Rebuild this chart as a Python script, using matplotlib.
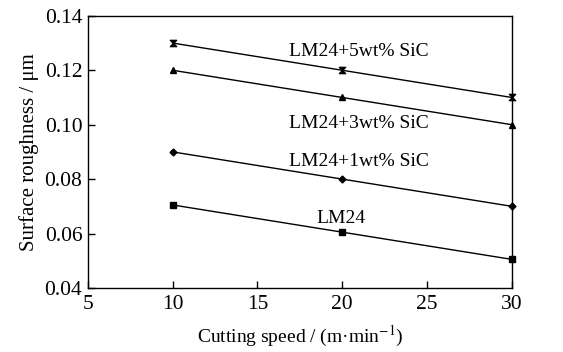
import matplotlib
matplotlib.use("Agg")
import matplotlib.pyplot as plt
from matplotlib.path import Path

plt.rcParams['font.family'] = ['Liberation Serif', 'DejaVu Serif']
plt.rcParams['mathtext.fontset'] = 'stix'

speed = [10, 20, 30]
lm24 = [0.0705, 0.0605, 0.0505]
sic1 = [0.090, 0.080, 0.070]
sic3 = [0.120, 0.110, 0.100]
sic5 = [0.130, 0.120, 0.110]

# hourglass marker for the 5wt% series
hourglass = Path([(-1, 1), (1, 1), (-1, -1), (1, -1), (-1, 1)],
                 [Path.MOVETO, Path.LINETO, Path.LINETO, Path.LINETO, Path.CLOSEPOLY])

series = [
    (lm24, 's', 4, "LM24", 19.9, 0.0657),
    (sic1, 'D', 3.5, "LM24+1wt% SiC", 21.0, 0.0863),
    (sic3, '^', 4.5, "LM24+3wt% SiC", 21.0, 0.1003),
    (sic5, hourglass, 4.5, "LM24+5wt% SiC", 21.0, 0.1268),
]

fig = plt.figure(figsize=(5.63, 3.52), dpi=100)
ax = fig.add_axes([0.156, 0.182, 0.753, 0.773])

for vals, mk, ms, name, tx, ty in series:
    ax.plot(speed, vals, color='black', lw=1.0, marker=mk, ms=ms,
            mec='black', mfc='black', mew=1.0, clip_on=False)
    ax.text(tx, ty, name, fontsize=14, ha='center', va='center')

ax.set_xlim(5, 30)
ax.set_ylim(0.04, 0.14)
ax.set_xticks([5, 10, 15, 20, 25, 30])
ax.set_yticks([0.04, 0.06, 0.08, 0.10, 0.12, 0.14])
ax.set_yticklabels(["0.04", "0.06", "0.08", "0.10", "0.12", "0.14"])
ax.tick_params(direction='in', length=5, width=1, labelsize=15.5)
ax.tick_params(axis='x', pad=5)
ax.tick_params(axis='y', pad=4)
for s in ax.spines.values():
    s.set_linewidth(1.0)

ax.set_xlabel("Cutting speed / (m·min$^{-1}$)", fontsize=14, labelpad=7)
ax.set_ylabel("Surface roughness / μm", fontsize=15, labelpad=4)

fig.savefig("out.png", dpi=100)
